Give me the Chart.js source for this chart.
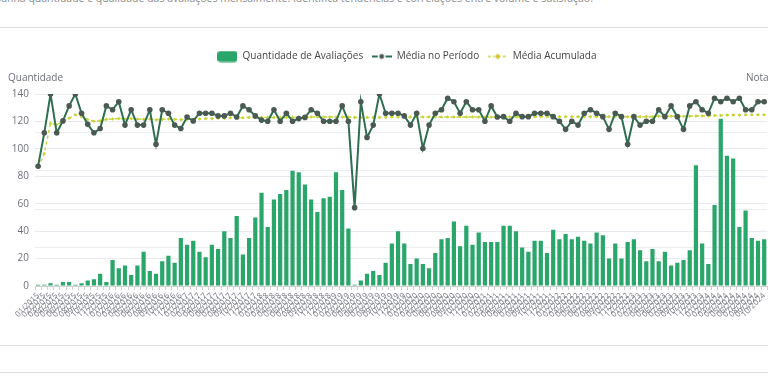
<!DOCTYPE html>
<html>
<head>
<meta charset="utf-8">
<script src="https://cdn.jsdelivr.net/npm/chart.js@4.4.1/dist/chart.umd.min.js"></script>
<style>
  html, body { margin:0; padding:0; background:#fff; }
  body { width:768px; height:384px; overflow:hidden; position:relative; font-family:"Open Sans", sans-serif; }
  .abs { position:absolute; white-space:nowrap; }
  .hr { position:absolute; left:0; width:768px; height:1px; background:#dedede; }
</style>
</head>
<body>
<div class="abs" style="left:-33px; top:-8px; font-size:10.5px; line-height:12px; color:#8a8a8a;">Acompanha quantidade e qualidade das avaliações mensalmente. Identifica tendências e correlações entre volume e satisfação.</div>
<div class="hr" style="top:27px;"></div>
<div class="abs" style="left:0; top:41px; width:772px; height:280px;"><canvas id="c"></canvas></div>
<div class="abs" style="left:8px; top:70px; font-size:10px; line-height:14px; color:#6e7079;">Quantidade</div>
<div class="abs" style="left:746px; top:70px; font-size:10px; line-height:14px; color:#6e7079;">Nota</div>
<div class="hr" style="top:345px;"></div>
<div class="hr" style="top:372px;"></div>
<script>
const months = [
  "01/2015","02/2015","03/2015","04/2015","05/2015","06/2015","07/2015","08/2015","09/2015","10/2015","11/2015","12/2015",
  "01/2016","02/2016","03/2016","04/2016","05/2016","06/2016","07/2016","08/2016","09/2016","10/2016","11/2016","12/2016",
  "01/2017","02/2017","03/2017","04/2017","05/2017","06/2017","07/2017","08/2017","09/2017","10/2017","11/2017","12/2017",
  "01/2018","02/2018","03/2018","04/2018","05/2018","06/2018","07/2018","08/2018","09/2018","10/2018","11/2018","12/2018",
  "01/2019","02/2019","03/2019","04/2019","05/2019","06/2019","07/2019","08/2019","09/2019","10/2019","11/2019","12/2019",
  "01/2020","02/2020","03/2020","04/2020","05/2020","06/2020","07/2020","08/2020","09/2020","10/2020","11/2020","12/2020",
  "01/2021","02/2021","03/2021","04/2021","05/2021","06/2021","07/2021","08/2021","09/2021","10/2021","11/2021","12/2021",
  "01/2022","02/2022","03/2022","04/2022","05/2022","06/2022","07/2022","08/2022","09/2022","10/2022","11/2022","12/2022",
  "01/2023","02/2023","03/2023","04/2023","05/2023","06/2023","07/2023","08/2023","09/2023","10/2023","11/2023","12/2023",
  "01/2024","02/2024","03/2024","04/2024","05/2024","06/2024","07/2024","08/2024","09/2024","10/2024"
];

const quantidade = [
  1,1,2,1,3,3,1,2,4,5,9,3,
  19,13,15,8,15,25,11,9,18,22,17,35,
  30,33,25,21,30,27,40,35,51,23,35,50,
  68,43,63,67,70,84,83,74,63,54,64,65,
  83,70,42,1,4,9,11,8,17,31,40,31,
  16,20,16,13,24,34,35,47,29,44,30,39,
  32,32,32,44,44,40,28,25,33,33,24,41,
  34,38,34,36,33,31,39,37,20,31,20,32,
  34,26,18,27,18,25,15,17,19,26,88,31,
  16,59,122,95,93,43,55,35,33,34
];

const mediaPeriodo = [
  3.12,3.99,5.0,3.99,4.30,4.69,5.0,4.5,4.21,3.99,4.1,4.69,
  4.59,4.8,4.19,4.59,4.19,4.19,4.59,3.69,4.59,4.5,4.19,4.1,
  4.4,4.3,4.5,4.5,4.5,4.43,4.43,4.5,4.4,4.69,4.59,4.43,
  4.32,4.29,4.59,4.29,4.5,4.29,4.36,4.39,4.59,4.5,4.29,4.29,
  4.29,4.69,4.29,2.04,4.8,3.87,4.19,5.0,4.5,4.5,4.5,4.43,
  4.19,4.5,3.58,4.19,4.5,4.59,4.89,4.8,4.5,4.8,4.59,4.59,
  4.29,4.69,4.4,4.41,4.29,4.5,4.41,4.41,4.5,4.5,4.5,4.41,
  4.29,4.08,4.29,4.19,4.5,4.59,4.5,4.41,4.08,4.5,4.41,3.69,
  4.41,4.19,4.29,4.29,4.59,4.41,4.69,4.41,4.08,4.69,4.8,4.59,
  4.5,4.89,4.8,4.89,4.8,4.89,4.59,4.59,4.8,4.8
];

const mediaAcumulada = [
  3.1,3.45,4.24,4.2,4.29,4.37,4.46,4.41,4.33,4.29,4.3,4.34,
  4.35,4.36,4.35,4.36,4.35,4.34,4.35,4.33,4.34,4.35,4.34,4.33,
  4.34,4.34,4.35,4.36,4.36,4.37,4.37,4.38,4.38,4.38,4.39,4.39,
  4.39,4.39,4.39,4.39,4.39,4.39,4.39,4.39,4.4,4.4,4.4,4.4,
  4.4,4.4,4.4,4.39,4.39,4.39,4.39,4.39,4.39,4.4,4.4,4.4,
  4.4,4.4,4.4,4.4,4.4,4.4,4.4,4.4,4.4,4.4,4.4,4.4,
  4.4,4.4,4.4,4.4,4.4,4.4,4.41,4.41,4.41,4.41,4.41,4.41,
  4.41,4.41,4.41,4.41,4.41,4.41,4.41,4.41,4.41,4.41,4.41,4.41,
  4.41,4.41,4.41,4.41,4.42,4.42,4.42,4.42,4.42,4.42,4.43,4.43,
  4.43,4.44,4.44,4.45,4.45,4.45,4.46,4.46,4.46,4.46
];

const seriesNames = ["Quantidade de Avaliações", "Média no Período", "Média Acumulada"];
const yTicksQuantidade = [0, 20, 40, 60, 80, 100, 120, 140];
const yTicksNota = [0, 1, 2, 3, 4, 5];

const COL_BAR = '#2aa66b';
const COL_LINE = '#2f6e50';
const COL_DOT = '#4a5a52';
const COL_ACC = '#c6d43a';

function icon(kind) {
  const c = document.createElement('canvas');
  c.width = 20; c.height = 12;
  const g = c.getContext('2d');
  if (kind === 0) {
    g.fillStyle = COL_BAR;
    g.beginPath();
    if (g.roundRect) g.roundRect(0, 0.5, 20, 11, 3); else g.rect(0, 0.5, 20, 11);
    g.fill();
  } else if (kind === 1) {
    g.strokeStyle = COL_LINE; g.lineWidth = 2;
    g.beginPath(); g.moveTo(0, 6); g.lineTo(20, 6); g.stroke();
    g.beginPath(); g.arc(10, 6, 3.2, 0, Math.PI * 2);
    g.fillStyle = COL_DOT; g.fill();
    g.lineWidth = 1.5; g.strokeStyle = '#fff'; g.stroke();
  } else {
    g.strokeStyle = COL_ACC; g.lineWidth = 1.5; g.setLineDash([3, 2]);
    g.beginPath(); g.moveTo(0, 6); g.lineTo(20, 6); g.stroke();
    g.setLineDash([]);
    g.beginPath(); g.moveTo(10, 2.5); g.lineTo(13.5, 6); g.lineTo(10, 9.5); g.lineTo(6.5, 6); g.closePath();
    g.fillStyle = '#cfc434'; g.fill();
    g.lineWidth = 1; g.strokeStyle = '#fff'; g.stroke();
  }
  return c;
}
const icons = [icon(0), icon(1), icon(2)];

const legendSpacer = {
  id: 'legendSpacer',
  beforeLayout(chart) {
    const lg = chart.legend;
    if (lg && !lg._patched) {
      const orig = lg.fit;
      lg.fit = function () { orig.call(this); this.height = 53; };
      lg._patched = true;
    }
  },
  afterLayout(chart) {
    const lg = chart.legend;
    if (lg) { lg.left += 16; lg.right += 16; lg.top += 2; }
  }
};

Chart.defaults.font.family = '"Open Sans", sans-serif';

new Chart(document.getElementById('c'), {
  data: {
    labels: months,
    datasets: [
      {
        type: 'bar', label: seriesNames[0], data: quantidade, yAxisID: 'y',
        backgroundColor: COL_BAR, categoryPercentage: 0.68, barPercentage: 1, order: 2
      },
      {
        type: 'line', label: seriesNames[1], data: mediaPeriodo, yAxisID: 'y1',
        borderColor: COL_LINE, borderWidth: 2, tension: 0,
        pointRadius: 2.8, pointBackgroundColor: COL_DOT, pointBorderWidth: 0, order: 0
      },
      {
        type: 'line', label: seriesNames[2], data: mediaAcumulada, yAxisID: 'y1',
        borderColor: COL_ACC, borderWidth: 1.5, borderDash: [3, 3], tension: 0,
        pointStyle: 'rectRot', pointRadius: 1.8, pointBackgroundColor: COL_ACC, pointBorderWidth: 0, order: 1
      }
    ]
  },
  options: {
    responsive: true, maintainAspectRatio: false, animation: false,
    layout: { padding: { left: 10, right: 0, top: 0, bottom: 0 } },
    plugins: {
      tooltip: { enabled: false },
      legend: {
        display: true, position: 'top', align: 'center',
        labels: {
          usePointStyle: true, pointStyleWidth: 20, boxHeight: 11,
          padding: 8.5, color: '#444', font: { size: 10 },
          generateLabels: () => seriesNames.map((t, i) => ({
            text: t, pointStyle: icons[i], fillStyle: COL_BAR, strokeStyle: 'transparent',
            lineWidth: 0, hidden: false, datasetIndex: i, fontColor: '#444'
          }))
        }
      }
    },
    scales: {
      x: {
        type: 'category', offset: true,
        grid: { display: true, drawOnChartArea: false, drawTicks: true, tickLength: 4, color: '#cfcfcf', offset: true },
        border: { display: true, color: '#cfcfcf' },
        ticks: { autoSkip: false, maxRotation: 45, minRotation: 45, padding: 1, color: '#7a7c85', font: { size: 8 } },
        afterFit: s => { s.height = 35; }
      },
      y: {
        position: 'left', min: 0, max: 140,
        afterBuildTicks: s => { s.ticks = yTicksQuantidade.map(v => ({ value: v })); },
        grid: { color: '#e9e9ef', drawTicks: false },
        border: { display: false },
        ticks: { padding: 6, color: '#6e7079', font: { size: 10 } },
        afterFit: s => { s.width = 25; }
      },
      y1: {
        position: 'right', min: 0, max: 5,
        afterBuildTicks: s => { s.ticks = yTicksNota.map(v => ({ value: v })); },
        grid: { color: '#ececf1', drawTicks: false },
        border: { display: false },
        ticks: { display: false },
        afterFit: s => { s.width = 0; }
      }
    }
  },
  plugins: [legendSpacer]
});
</script>
</body>
</html>
